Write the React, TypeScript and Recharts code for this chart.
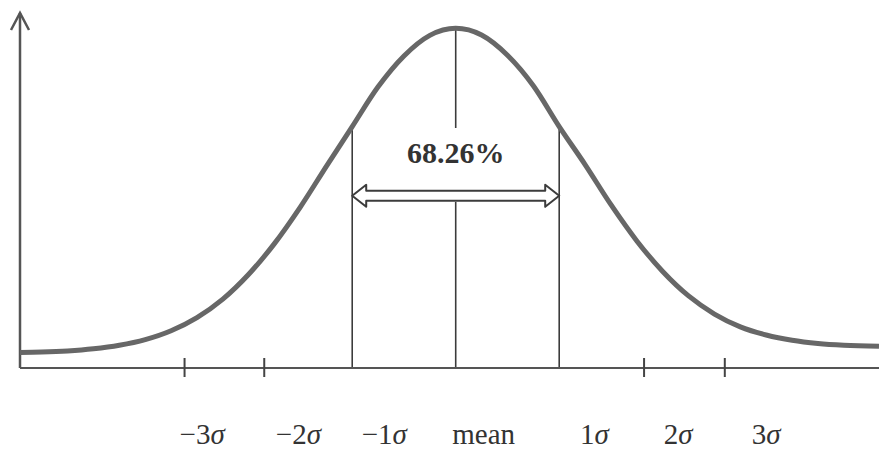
import React from 'react';
import { LineChart, Line, XAxis, YAxis, ReferenceLine } from 'recharts';

// Bell curve sampled along the horizontal axis (units of σ from the mean)
const curveX = [-4.21, -4.0, -3.75, -3.5, -3.25, -3.0, -2.75, -2.5, -2.25, -2.0, -1.75, -1.5, -1.25, -1.0, -0.75, -0.5, -0.25, 0, 0.25, 0.5, 0.75, 1.0, 1.25, 1.5, 1.75, 2.0, 2.25, 2.5, 2.75, 3.0, 3.25, 3.5, 3.75, 4.09];
const curveY = [4.4, 4.5, 4.8, 5.4, 6.4, 8.0, 10.5, 14.2, 19.4, 26.4, 35.1, 45.4, 56.8, 68.0, 79.2, 87.9, 93.7, 95.7, 93.8, 88.1, 79.5, 68.0, 57.3, 46.0, 35.8, 27.2, 20.3, 15.2, 11.6, 9.3, 7.8, 6.9, 6.4, 6.1];

// Small tick marks on the axis
const tickMarks = [-2.62, -1.85, 1.82, 2.6];
// Axis captions and where they sit
const labelPos = [-2.45, -1.52, -0.69, 0.27, 1.34, 2.15, 3.0];
const labelText = ['−3σ', '−2σ', '−1σ', 'mean', '1σ', '2σ', '3σ'];

// Vertical guides at −1σ, mean, +1σ
const guideX = [-1, 0, 1];
const centralShare = '68.26%';
const arrowLevel = 48.5;
const meanGapTop = 67.6;
const meanGapBottom = 46.8;

const X_MIN = -4.21;
const X_MAX = 4.09;

const data = curveX.map((x, i) => ({ x, y: curveY[i] }));
const heightAt = (x: number) => curveY[curveX.indexOf(x)];

const INK = '#3c3c3c';
const FONT = '"Liberation Serif", "DejaVu Serif", serif';

const renderTick = (props: any) => {
  const { x, y, payload } = props;
  const v = payload.value as number;
  const li = labelPos.indexOf(v);
  if (li >= 0) {
    const t = labelText[li];
    const hasSigma = t.endsWith('σ');
    const head = hasSigma ? t.slice(0, -1) : t;
    return (
      <text x={x} y={y + 76} textAnchor="middle" fontFamily={FONT} fontSize={29} fill="#333">
        {head}
        {hasSigma && <tspan fontStyle="italic">σ</tspan>}
      </text>
    );
  }
  return <line x1={x} x2={x} y1={y - 10} y2={y + 9} stroke="#444" strokeWidth={2} />;
};

// Vertical axis with an open arrowhead at the top
const axisArrow = (p: any) => {
  const { x1, y1, x2, y2 } = p;
  const top = Math.min(y1, y2);
  const bottom = Math.max(y1, y2);
  return (
    <g>
      <line x1={x1} x2={x2} y1={bottom} y2={top} stroke="#555" strokeWidth={2.5} />
      <polyline
        points={`${x1 - 9},${top + 17} ${x1},${top} ${x1 + 9},${top + 17}`}
        fill="none"
        stroke="#555"
        strokeWidth={2.5}
      />
    </g>
  );
};

// Hollow double-headed arrow spanning −1σ to +1σ
const doubleArrow = (p: any) => {
  const { x1, y1, x2 } = p;
  const y = y1;
  const hl = 14;
  const hh = 11;
  const st = 5;
  const pts = [
    [x1, y],
    [x1 + hl, y - hh],
    [x1 + hl, y - st],
    [x2 - hl, y - st],
    [x2 - hl, y - hh],
    [x2, y],
    [x2 - hl, y + hh],
    [x2 - hl, y + st],
    [x1 + hl, y + st],
    [x1 + hl, y + hh],
  ]
    .map((q) => q.join(','))
    .join(' ');
  return <polygon points={pts} fill="#fff" stroke={INK} strokeWidth={2} strokeLinejoin="round" />;
};

export default function App() {
  return (
    <div style={{ position: 'absolute', left: 0, top: 0, background: '#fff' }}>
      <LineChart width={879} height={453} data={data} margin={{ top: 13, right: 0, bottom: 0, left: 20 }}>
        <XAxis
          dataKey="x"
          type="number"
          domain={[X_MIN, X_MAX]}
          allowDataOverflow
          ticks={[...tickMarks, ...labelPos]}
          interval={0}
          tick={renderTick}
          tickLine={false}
          tickSize={0}
          tickMargin={0}
          height={85}
          axisLine={{ stroke: '#555', strokeWidth: 2 }}
        />
        <YAxis type="number" domain={[0, 100]} hide />

        <ReferenceLine
          segment={[{ x: X_MIN, y: 0 }, { x: X_MIN, y: 100 }]}
          shape={axisArrow}
          ifOverflow="visible"
        />

        {/* ±1σ guides */}
        {[guideX[0], guideX[2]].map((gx) => (
          <ReferenceLine
            key={gx}
            segment={[{ x: gx, y: 0 }, { x: gx, y: heightAt(gx) }]}
            stroke={INK}
            strokeWidth={1.6}
          />
        ))}
        {/* mean guide, interrupted by the caption and the arrow */}
        <ReferenceLine
          segment={[{ x: guideX[1], y: 0 }, { x: guideX[1], y: meanGapBottom }]}
          stroke={INK}
          strokeWidth={1.6}
        />
        <ReferenceLine
          segment={[{ x: guideX[1], y: meanGapTop }, { x: guideX[1], y: heightAt(guideX[1]) }]}
          stroke={INK}
          strokeWidth={1.6}
        />

        <ReferenceLine
          segment={[{ x: guideX[0], y: arrowLevel }, { x: guideX[2], y: arrowLevel }]}
          shape={doubleArrow}
          label={{
            value: centralShare,
            position: 'top',
            offset: 33,
            fontFamily: FONT,
            fontSize: 30,
            fontWeight: 'bold',
            fill: '#333',
          }}
        />

        <Line
          type="monotone"
          dataKey="y"
          stroke="#676767"
          strokeWidth={5}
          dot={false}
          isAnimationActive={false}
        />
      </LineChart>
    </div>
  );
}
